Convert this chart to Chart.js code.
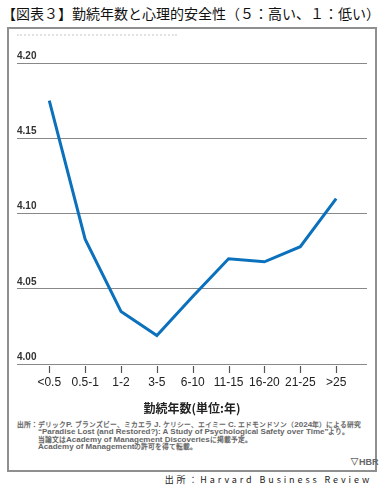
<!DOCTYPE html>
<html lang="ja">
<head>
<meta charset="utf-8">
<script src="https://cdn.jsdelivr.net/npm/chart.js@4.4.1/dist/chart.umd.min.js"></script>
<style>
  @font-face { font-family: "NoteJP"; src: local("Noto Sans CJK JP"); size-adjust: 85%;
               unicode-range: U+2010-2027, U+3000-9FFF, U+FF00-FFEF; }
  html, body { margin: 0; padding: 0; background: #fff; }
  body { width: 387px; height: 491px; position: relative; overflow: hidden;
         font-family: "Noto Sans CJK JP", "Liberation Sans", sans-serif; }
  #title { position: absolute; left: 2px; top: 3px; font-size: 14px; color: #111; white-space: nowrap; }
  #box { position: absolute; left: 7px; top: 27px; width: 366px; height: 441px; border: 2px solid #8f8f8f; }
  #faint { position: absolute; left: 17px; top: 34px; width: 160px; border-top: 2px dotted #e2e2e2; }
  #wrap { position: absolute; left: 0; top: 0; width: 387px; height: 420px; }
  #note { position: absolute; left: 17px; top: 421px; font-size: 8px; line-height: 7.3px; color: #666;
          font-family: "Liberation Sans", "NoteJP", sans-serif; font-weight: bold; white-space: nowrap; }
  #note .ind { padding-left: 21px; }
  #hbr { position: absolute; left: 350px; top: 456px; font: bold 9px "Liberation Sans", sans-serif; color: #666; }
  #src { position: absolute; right: 15px; top: 473px; font-size: 9px; color: #222; letter-spacing: 2.9px; white-space: nowrap; }
</style>
</head>
<body>
<div id="title">【図表３】勤続年数と心理的安全性（５：高い、１：低い）</div>
<div id="box"></div>
<div id="faint"></div>
<div id="wrap"><canvas id="chart"></canvas></div>
<div id="note">
  <div>出所：デリックP. ブランズビー、ミカエラ J. ケリシー、エイミー C. エドモンドソン（2024年）による研究</div>
  <div class="ind">“Paradise Lost (and Restored?): A Study of Psychological Safety over Time”より。</div>
  <div class="ind">当論文はAcademy of Management Discoveriesに掲載予定。</div>
  <div class="ind">Academy of Managementの許可を得て転載。</div>
</div>
<div id="hbr">&#9661;HBR</div>
<div id="src">出所：Harvard Business Review</div>

<script>
// 勤続年数のカテゴリ
const categories = ["<0.5", "0.5-1", "1-2", "3-5", "6-10", "11-15", "16-20", "21-25", ">25"];
// 心理的安全性の平均スコア
const scores = [4.175, 4.083, 4.035, 4.019, 4.045, 4.070, 4.068, 4.078, 4.110];
// 縦軸の目盛り
const yTicks = [4.00, 4.05, 4.10, 4.15, 4.20];

// 横軸の目盛り線（グリッド線から少し離して描く）
const tickMarks = {
  id: "tickMarks",
  afterDraw: function (chart) {
    const c = chart.ctx;
    const xs = chart.scales.x;
    const b = Math.round(chart.scales.y.getPixelForValue(yTicks[0]));
    c.save();
    c.strokeStyle = "#555";
    c.lineWidth = 1.2;
    c.setLineDash([]);
    categories.forEach(function (cat, i) {
      const x = Math.round(xs.getPixelForValue(i)) + 0.5;
      c.beginPath();
      c.moveTo(x, b + 2);
      c.lineTo(x, b + 9);
      c.stroke();
    });
    c.restore();
  }
};

const ctx = document.getElementById("chart").getContext("2d");

new Chart(ctx, {
  type: "line",
  data: {
    datasets: [{
      data: scores.map(function (v, i) { return { x: i, y: v }; }),
      borderColor: "#0b71bd",
      borderWidth: 3,
      pointRadius: 0,
      tension: 0,
      fill: false
    }]
  },
  plugins: [tickMarks],
  options: {
    responsive: true,
    maintainAspectRatio: false,
    animation: false,
    layout: { padding: { left: 17, right: 20, top: 63, bottom: 4 } },
    plugins: { legend: { display: false }, tooltip: { enabled: false } },
    scales: {
      x: {
        type: "linear",
        min: -0.9,
        max: 8.86,
        afterBuildTicks: function (axis) {
          axis.ticks = categories.map(function (c, i) { return { value: i }; });
        },
        ticks: {
          autoSkip: false,
          maxRotation: 0,
          padding: 11,
          color: "#222",
          font: { family: "Liberation Sans", size: 12 },
          callback: function (v) { return categories[v]; }
        },
        grid: { display: false, drawTicks: false },
        border: { display: false },
        title: {
          display: true,
          text: "勤続年数(単位:年)",
          color: "#222",
          font: { family: "Noto Sans CJK JP", size: 12, weight: "bold" },
          padding: { top: 1, bottom: 0 }
        }
      },
      y: {
        min: 4.0,
        max: 4.2,
        afterBuildTicks: function (axis) {
          axis.ticks = yTicks.map(function (v) { return { value: v }; });
        },
        ticks: {
          mirror: true,
          padding: 0,
          labelOffset: -7,
          color: "#333",
          font: { family: "Liberation Sans", size: 10, weight: "bold" },
          callback: function (v) { return v.toFixed(2); }
        },
        grid: {
          color: "#888",
          borderDash: [2, 2],
          drawTicks: false
        },
        border: { display: false }
      }
    }
  }
});
</script>
</body>
</html>
